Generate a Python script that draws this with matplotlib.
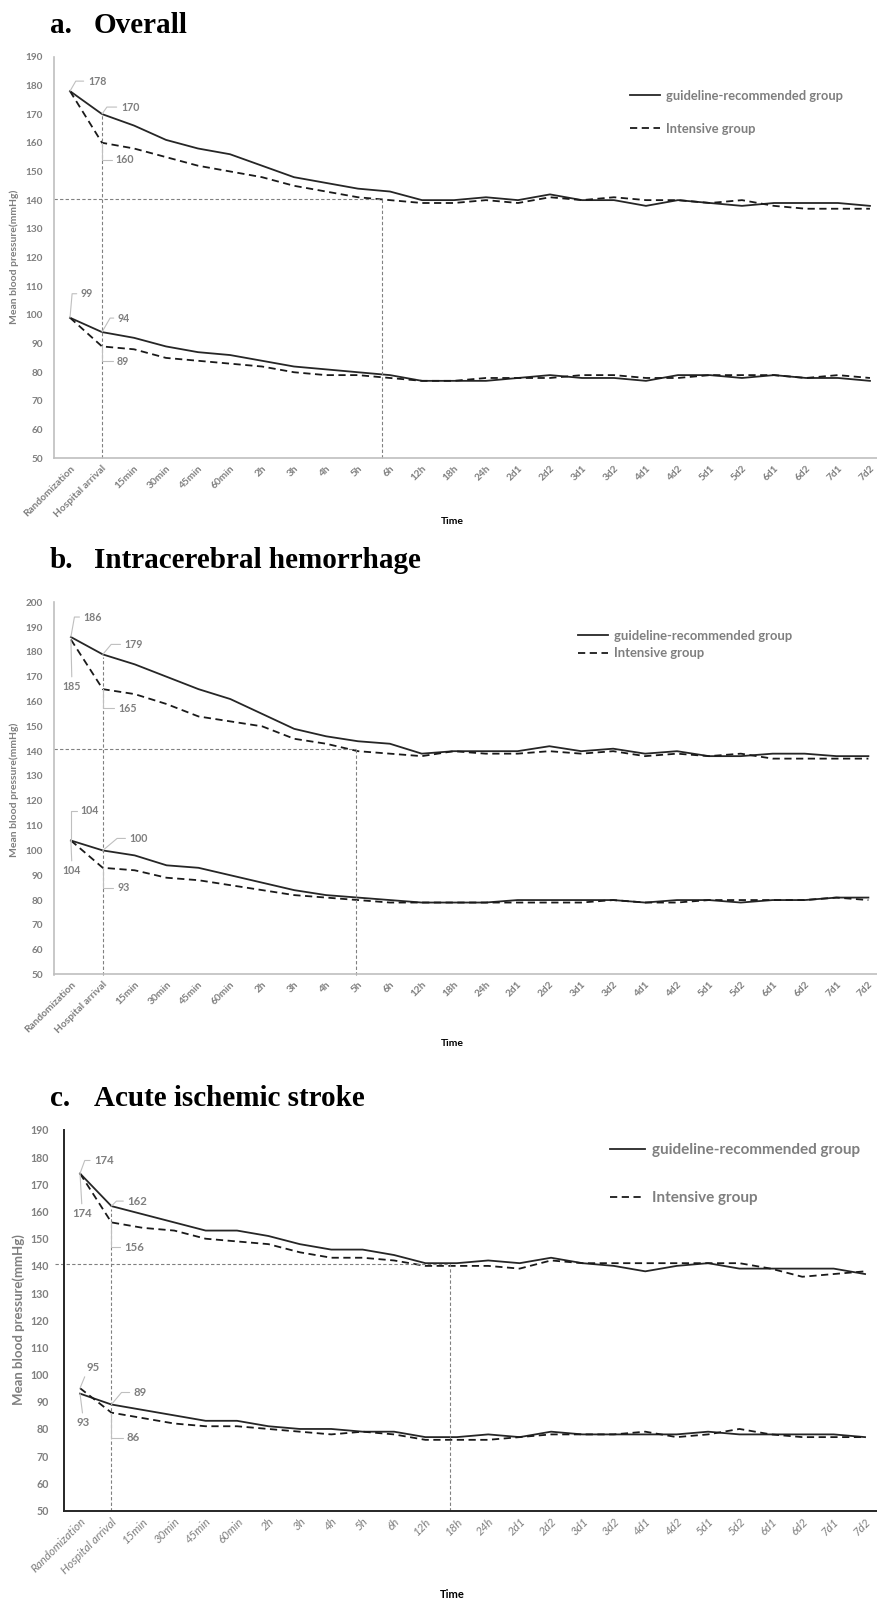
import matplotlib.pyplot as plt

# time points on the x axis
times = ['Randomization', 'Hospital arrival', '15min', '30min', '45min', '60min',
         '2h', '3h', '4h', '5h', '6h', '12h', '18h', '24h', '2d1', '2d2', '3d1', '3d2',
         '4d1', '4d2', '5d1', '5d2', '6d1', '6d2', '7d1', '7d2']

# a. Overall
sbp_std_a = [178, 170, 166, 161, 158, 156, 152, 148, 146, 144, 143, 140, 140, 141, 140, 142,
             140, 140, 138, 140, 139, 138, 139, 139, 139, 138]
sbp_int_a = [178, 160, 158, 155, 152, 150, 148, 145, 143, 141, 140, 139, 139, 140, 139, 141,
             140, 141, 140, 140, 139, 140, 138, 137, 137, 137]
dbp_std_a = [99, 94, 92, 89, 87, 86, 84, 82, 81, 80, 79, 77, 77, 77, 78, 79,
             78, 78, 77, 79, 79, 78, 79, 78, 78, 77]
dbp_int_a = [99, 89, 88, 85, 84, 83, 82, 80, 79, 79, 78, 77, 77, 78, 78, 78,
             79, 79, 78, 78, 79, 79, 79, 78, 79, 78]

# b. Intracerebral hemorrhage
sbp_std_b = [186, 179, 175, 170, 165, 161, 155, 149, 146, 144, 143, 139, 140, 140, 140, 142,
             140, 141, 139, 140, 138, 138, 139, 139, 138, 138]
sbp_int_b = [185, 165, 163, 159, 154, 152, 150, 145, 143, 140, 139, 138, 140, 139, 139, 140,
             139, 140, 138, 139, 138, 139, 137, 137, 137, 137]
dbp_std_b = [104, 100, 98, 94, 93, 90, 87, 84, 82, 81, 80, 79, 79, 79, 80, 80,
             80, 80, 79, 80, 80, 79, 80, 80, 81, 81]
dbp_int_b = [104, 93, 92, 89, 88, 86, 84, 82, 81, 80, 79, 79, 79, 79, 79, 79,
             79, 80, 79, 79, 80, 80, 80, 80, 81, 80]

# c. Acute ischemic stroke
sbp_std_c = [174, 162, 159, 156, 153, 153, 151, 148, 146, 146, 144, 141, 141, 142, 141, 143,
             141, 140, 138, 140, 141, 139, 139, 139, 139, 137]
sbp_int_c = [174, 156, 154, 153, 150, 149, 148, 145, 143, 143, 142, 140, 140, 140, 139, 142,
             141, 141, 141, 141, 141, 141, 139, 136, 137, 138]
dbp_std_c = [93, 89, 87, 85, 83, 83, 81, 80, 80, 79, 79, 77, 77, 78, 77, 79,
             78, 78, 78, 78, 79, 78, 78, 78, 78, 77]
dbp_int_c = [95, 86, 84, 82, 81, 81, 80, 79, 78, 79, 78, 76, 76, 76, 77, 78,
             78, 78, 79, 77, 78, 80, 78, 77, 77, 77]

GRAY = '#7f7f7f'
FONT = 'Lato'
W, H = 877, 1600

fig = plt.figure(figsize=(W / 100, H / 100), dpi=100)


def fx(px):
    return px / W


def fy(py):
    return 1 - py / H


def callout(ax, x, y, off, kind, fs):
    dx, dy = off
    if kind == 'straight':
        rel = (0.5, 1) if dy < 0 else (0.5, 0)
        cs = 'arc3'
    elif kind == 'diag':
        rel = (0, 0)
        cs = 'arc3'
    else:
        rel = (0, 0.5)
        cs = 'angle,angleA=0,angleB=%d,rad=0' % kind
    ax.annotate(str(y), xy=(x, y), xytext=(dx, dy), textcoords='offset pixels',
                ha='center', va='center', fontsize=fs, color=GRAY,
                family=FONT, weight='bold',
                arrowprops=dict(arrowstyle='-', color='#bfbfbf', lw=0.8,
                                shrinkA=1, shrinkB=0, relpos=rel,
                                connectionstyle=cs))


def panel(rect, ylim, series, title, xlim, ref, notes, legend, dark, tfs, lab_pos, time_y):
    ax = fig.add_axes(rect)
    x = list(range(len(times)))
    std_s, int_s, std_d, int_d = series
    ax.plot(x, std_s, color='#262626', lw=1.3, ls='-', label='guideline-recommended group')
    ax.plot(x, int_s, color='#1a1a1a', lw=1.3, ls=(0, (4, 2.5)), label='Intensive group')
    ax.plot(x, std_d, color='#262626', lw=1.3, ls='-')
    ax.plot(x, int_d, color='#1a1a1a', lw=1.3, ls=(0, (4, 2.5)))

    # reference lines
    hy, hx0, vx1, vtop, vx2 = ref
    rc = dict(color='#808080', lw=0.8, ls=(0, (3, 2)), clip_on=False)
    ax.plot([hx0, vx2], [hy, hy], **rc)
    ax.plot([vx1, vx1], [ylim[0], vtop], **rc)
    ax.plot([vx2, vx2], [ylim[0], hy], **rc)

    ax.set_xlim(*xlim)
    ax.set_ylim(*ylim)
    ax.set_yticks(range(ylim[0], ylim[1] + 1, 10))
    ax.set_xticks(x)
    for s in ['top', 'right']:
        ax.spines[s].set_visible(False)
    sc = '#262626' if dark else '#bfbfbf'
    for s in ['left', 'bottom']:
        ax.spines[s].set_color(sc)
        ax.spines[s].set_linewidth(1.4 if dark else 1.2)

    yfs = 7.7 if dark else 7.2
    ax.tick_params(axis='y', length=0, pad=11 if dark else 8)
    ax.tick_params(axis='x', length=0, pad=4)
    for lab in ax.get_yticklabels():
        lab.set_fontsize(yfs)
        lab.set_color(GRAY)
        lab.set_family(FONT)
        lab.set_weight('bold')
    ax.set_xticklabels(times, rotation=45, ha='right', rotation_mode='anchor',
                       fontsize=tfs, color=GRAY, family=FONT,
                       weight='normal' if dark else 'bold',
                       style='italic' if dark else 'normal')

    # value callouts at randomization and hospital arrival
    afs = 8.2 if dark else 7.7
    for (i, arr, off, kind) in notes:
        callout(ax, i, arr[i], off, kind, afs)

    lx, ly, lfs, lsp = legend
    ax.legend(loc='upper left', bbox_to_anchor=(fx(lx), fy(ly)),
              bbox_transform=fig.transFigure, frameon=False, borderpad=0,
              borderaxespad=0, handlelength=2.3, handletextpad=0.45,
              labelspacing=lsp, labelcolor=GRAY,
              prop=dict(family=FONT, weight='bold', size=lfs))

    # panel title
    ty, word = title
    letter, name = word
    fig.text(fx(50), fy(ty), letter, family='Liberation Serif', weight='bold',
             fontsize=21, va='baseline', ha='left')
    fig.text(fx(94), fy(ty), name, family='Liberation Serif', weight='bold',
             fontsize=21, va='baseline', ha='left')

    # axis titles
    yx, yy, yfs2 = lab_pos
    fig.text(fx(yx), fy(yy), 'Mean blood pressure(mmHg)', rotation=90, ha='center',
             va='center', fontsize=yfs2, color=GRAY, family=FONT, weight='bold')
    fig.text(fx(452), fy(time_y), 'Time', ha='center', va='center',
             fontsize=7.5 if not dark else 8, color='black', family=FONT, weight='bold')
    return ax


# panel a
panel([fx(54), fy(458.3), fx(823), 401.6 / H], (50, 190),
      (sbp_std_a, sbp_int_a, dbp_std_a, dbp_int_a),
      (33, ('a.', 'Overall')), (-0.5, 25.22),
      (140.5, -0.5, 1.0, 170, 9.75),
      [(0, sbp_std_a, (27, 10), 60), (1, sbp_std_a, (28, 7), 55),
       (1, sbp_int_a, (23, -17), 90), (0, dbp_std_a, (17, 24), 85),
       (1, dbp_std_a, (22, 14), 60), (1, dbp_int_a, (21, -15), 90)],
      (630, 90, 9.3, 1.62), False, 7.3, (14, 257, 7.5), 522)

# panel b
panel([fx(54.3), fy(974.5), fx(822.7), 372.2 / H], (50, 200),
      (sbp_std_b, sbp_int_b, dbp_std_b, dbp_int_b),
      (568, ('b.', 'Intracerebral hemorrhage')), (-0.52, 25.27),
      (141, -0.52, 1.0, 178, 8.93),
      [(0, sbp_std_b, (22, 20), 80), (0, sbp_int_b, (1, -47), 'straight'),
       (1, sbp_std_b, (31, 10), 50), (1, sbp_int_b, (25, -19), 90),
       (0, dbp_std_b, (19, 30), 90), (0, dbp_int_b, (1, -30), 'straight'),
       (1, dbp_std_b, (36, 12), 40), (1, dbp_int_b, (21, -20), 90)],
      (578, 630, 9.4, 0.42), False, 7.3, (14, 790, 7.5), 1044)

# panel c
panel([fx(64), fy(1510.5), fx(813), 380.5 / H], (50, 190),
      (sbp_std_c, sbp_int_c, dbp_std_c, dbp_int_c),
      (1106, ('c.', 'Acute ischemic stroke')), (-0.51, 25.38),
      (140.6, -0.8, 1.0, 161, 11.78),
      [(0, sbp_std_c, (24, 13), 70), (0, sbp_int_c, (2, -40), 'straight'),
       (1, sbp_std_c, (26, 5), 45), (1, sbp_int_c, (23, -25), 90),
       (0, dbp_int_c, (13, 21), 'diag'), (0, dbp_std_c, (3, -29), 'straight'),
       (1, dbp_std_c, (29, 12), 50), (1, dbp_int_c, (22, -25), 90)],
      (610, 1143, 11.0, 2.25), True, 8.3, (19, 1320, 9.5), 1595)

fig.savefig('out.png', dpi=100)
